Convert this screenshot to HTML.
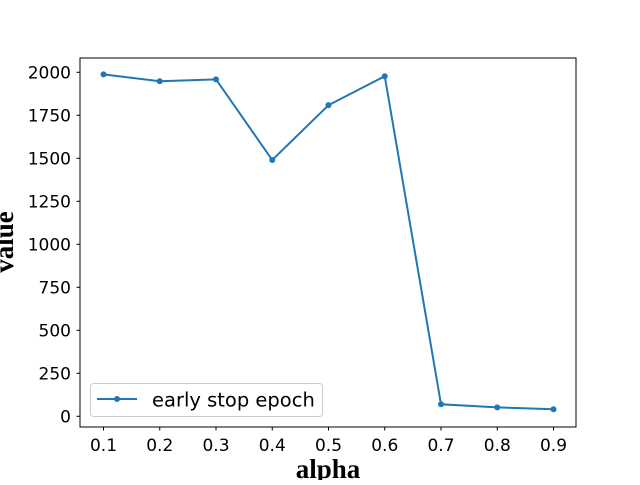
<!DOCTYPE html>
<html><head><meta charset="utf-8"><style>
body{margin:0;background:#fff;}
svg text{font-family:"DejaVu Sans","Liberation Sans",sans-serif;}
</style></head><body>
<svg width="640" height="480" xmlns="http://www.w3.org/2000/svg">
<g id="plot"></g>
</svg>
<script>
const categories=[0.1,0.2,0.3,0.4,0.5,0.6,0.7,0.8,0.9];
const values=[1988,1948,1959,1490,1809,1977,70,52,41];
const yTicks=[0,250,500,750,1000,1250,1500,1750,2000];
const xTicks=["0.1","0.2","0.3","0.4","0.5","0.6","0.7","0.8","0.9"];
const L=80,R=576,T=58,B=427;
const x0=0.1,xpx0=103.5,xs=562.5;
function X(v){return xpx0+(v-x0)*xs;}
function Y(v){return 416.3-v*0.172;}
const ns="http://www.w3.org/2000/svg";
const g=document.getElementById('plot');
function mk(t,a,txt){const e=document.createElementNS(ns,t);for(const k in a)e.setAttribute(k,a[k]);if(txt!==undefined)e.textContent=txt;g.appendChild(e);return e;}
let fr=mk('rect',{x:L,y:T,width:R-L,height:B-T,fill:'none',stroke:'#000','stroke-width':1});


yTicks.forEach(v=>{
 const y=Y(v);
 let l=mk('line',{x1:L-3.5,x2:L,y1:y,y2:y,stroke:'#000'});
 
 
 let t=mk('text',{x:L-9,y:y+6,'text-anchor':'end','font-size':17,fill:'#000'},String(v));
 
 
});
xTicks.forEach((s,i)=>{
 const x=X(categories[i]);
 let l=mk('line',{x1:x,x2:x,y1:B,y2:B+3.5,stroke:'#000'});
 
 
 let t=mk('text',{x:x,y:B+24,'text-anchor':'middle','font-size':17,fill:'#000'},s);
 
 
});
let pts=categories.map((c,i)=>X(c)+','+Y(values[i])).join(' ');
let pl=mk('polyline',{points:pts,fill:'none',stroke:'#1f77b4','stroke-width':2});


categories.forEach((c,i)=>{
 let p=mk('circle',{cx:X(c),cy:Y(values[i]),r:3,fill:'#1f77b4'});
 
 
});
let xl=mk('text',{x:328,y:478,'text-anchor':'middle','font-size':27,'font-weight':'bold',style:'font-family:"Liberation Serif",serif'},'alpha');


let yl=mk('text',{x:0,y:0,'text-anchor':'middle','font-size':27,'font-weight':'bold',transform:'translate(13,242) rotate(-90)',style:'font-family:"Liberation Serif",serif'},'value');


let lg=mk('rect',{x:90.5,y:383.5,width:232,height:33,rx:3,fill:'#fff','fill-opacity':0.8,stroke:'#ccc'});


let ll=mk('line',{x1:97,x2:137,y1:399,y2:399,stroke:'#1f77b4','stroke-width':2});


let lp=mk('circle',{cx:117,cy:399,r:3,fill:'#1f77b4'});


let lt=mk('text',{x:152,y:406.5,'font-size':19.5,fill:'#000'},'early stop epoch');


</script>
</body></html>
